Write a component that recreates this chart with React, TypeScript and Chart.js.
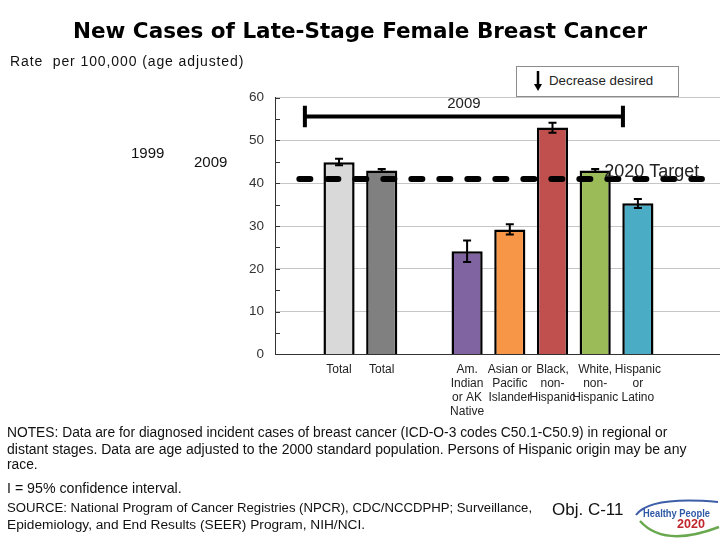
import React, { useEffect, useRef } from 'react';
import { Chart, registerables } from 'chart.js';

Chart.register(...registerables);

// ---- data ----
const categories: string[][] = [
  [''],
  ['Total'],
  ['Total'],
  [''],
  ['Am.', 'Indian', 'or AK', 'Native'],
  ['Asian or', 'Pacific', 'Islander'],
  ['Black,', 'non-', 'Hispanic'],
  ['White,', 'non-', 'Hispanic'],
  ['Hispanic', 'or', 'Latino'],
  [''],
  [''],
];
const rates: (number | null)[] = [null, 44.9, 43.0, null, 24.1, 29.2, 53.0, 43.0, 35.3, null, null];
const ciLow: (number | null)[] = [null, 44.2, 42.7, null, 21.6, 28.0, 51.8, 42.7, 34.2, null, null];
const ciHigh: (number | null)[] = [null, 45.7, 43.3, null, 26.6, 30.4, 54.1, 43.3, 36.3, null, null];
const barColors: string[] = [
  'transparent', '#d9d9d9', '#808080', 'transparent', '#8064a2',
  '#f79646', '#c0504d', '#9bbb59', '#4bacc6', 'transparent', 'transparent',
];
const targetValue = 41.0;
const targetLabel = '2020 Target';
const bracketLabel = '2009';
const bracketValue = 55.6;
const bracketFrom = 0.2;
const bracketTo = 7.65;
const yMin = 0;
const yMax = 60;
const yStep = 5;

const FONT = "'Liberation Sans', Arial, sans-serif";

const overlayPlugin = {
  id: 'overlay',
  afterDatasetsDraw(chart: any) {
    const { ctx, chartArea, scales } = chart;
    const x = scales.x;
    const y = scales.y;
    ctx.save();

    // inward tick marks
    ctx.strokeStyle = '#333';
    ctx.lineWidth = 1;
    for (let v = yMin + yStep; v <= yMax; v += yStep) {
      const py = Math.round(y.getPixelForValue(v)) + 0.5;
      ctx.beginPath();
      ctx.moveTo(chartArea.left, py);
      ctx.lineTo(chartArea.left + 5, py);
      ctx.stroke();
    }

    // error bars
    const meta = chart.getDatasetMeta(0);
    ctx.strokeStyle = '#000';
    ctx.lineWidth = 2;
    rates.forEach((r, i) => {
      if (r == null) return;
      const lo = ciLow[i] as number;
      const hi = ciHigh[i] as number;
      const px = meta.data[i].x;
      const yl = y.getPixelForValue(lo);
      const yh = y.getPixelForValue(hi);
      ctx.beginPath();
      ctx.moveTo(px, yl);
      ctx.lineTo(px, yh);
      ctx.moveTo(px - 4, yl);
      ctx.lineTo(px + 4, yl);
      ctx.moveTo(px - 4, yh);
      ctx.lineTo(px + 4, yh);
      ctx.stroke();
    });

    // target dashed line
    const ty = y.getPixelForValue(targetValue);
    ctx.setLineDash([11, 17]);
    ctx.lineCap = 'round';
    ctx.lineWidth = 6;
    ctx.strokeStyle = '#000';
    ctx.beginPath();
    ctx.moveTo(x.getPixelForValue(0) + 3, ty);
    ctx.lineTo(x.getPixelForValue(9.5), ty);
    ctx.stroke();
    ctx.setLineDash([]);
    ctx.lineCap = 'butt';

    // bracket
    const bx1 = x.getPixelForValue(bracketFrom);
    const bx2 = x.getPixelForValue(bracketTo);
    const by = y.getPixelForValue(bracketValue);
    const capTop = y.getPixelForValue(bracketValue + 2.5);
    const capBot = y.getPixelForValue(bracketValue - 2.5);
    ctx.lineWidth = 4;
    ctx.beginPath();
    ctx.moveTo(bx1, by);
    ctx.lineTo(bx2, by);
    ctx.moveTo(bx1, capTop);
    ctx.lineTo(bx1, capBot);
    ctx.moveTo(bx2, capTop);
    ctx.lineTo(bx2, capBot);
    ctx.stroke();

    // texts
    ctx.fillStyle = '#222';
    ctx.textBaseline = 'middle';
    ctx.textAlign = 'center';
    ctx.font = `15px ${FONT}`;
    ctx.fillText(bracketLabel, (bx1 + bx2) / 2, y.getPixelForValue(58.6));

    ctx.textAlign = 'left';
    ctx.font = `18px ${FONT}`;
    ctx.fillText(targetLabel, x.getPixelForValue(7.21), y.getPixelForValue(42.7));
    ctx.restore();
  },
};

const abs = (left: number, top: number, extra: React.CSSProperties = {}): React.CSSProperties => ({
  position: 'absolute',
  left,
  top,
  whiteSpace: 'pre',
  fontFamily: FONT,
  color: '#111',
  ...extra,
});

export default function App() {
  const ref = useRef<HTMLCanvasElement | null>(null);

  useEffect(() => {
    if (!ref.current) return;
    const chart = new Chart(ref.current, {
      type: 'bar',
      data: {
        labels: categories,
        datasets: [
          {
            data: rates as any,
            backgroundColor: barColors,
            borderColor: '#000',
            borderWidth: 2.5,
            barPercentage: 0.73,
            categoryPercentage: 1,
          },
        ],
      },
      options: {
        animation: false,
        responsive: false,
        devicePixelRatio: 1,
        layout: { padding: { left: 0, top: 97.6, right: 0.4, bottom: 0 } },
        plugins: {
          legend: { display: false },
          title: { display: false },
          tooltip: { enabled: false },
        },
        scales: {
          x: {
            offset: true,
            grid: { display: false, drawTicks: false },
            border: { display: true, color: '#333', width: 1 },
            ticks: {
              autoSkip: false,
              maxRotation: 0,
              minRotation: 0,
              padding: 8,
              color: '#222',
              font: { family: FONT, size: 12, lineHeight: 1.17 },
            },
            afterFit: (s: any) => {
              s.height = 185.5;
            },
          },
          y: {
            min: yMin,
            max: yMax,
            grid: {
              drawTicks: false,
              color: (c: any) =>
                c.tick && c.tick.value % 10 === 0 && c.tick.value > 0 ? '#c6c6c6' : 'transparent',
            },
            border: { display: true, color: '#333', width: 1 },
            ticks: {
              stepSize: yStep,
              padding: 11,
              color: '#333',
              font: { family: FONT, size: 13.5 },
              callback: (v: any) => (Number(v) % 10 === 0 ? String(v) : ''),
            },
            afterFit: (s: any) => {
              s.width = 275;
            },
          },
        },
      },
      plugins: [overlayPlugin],
    });
    return () => chart.destroy();
  }, []);

  const note = (top: number, size: number, text: string) => (
    <div style={abs(7, top, { fontSize: size, lineHeight: '16px' })}>{text}</div>
  );

  return (
    <div
      style={{
        position: 'fixed',
        left: 0,
        top: 0,
        width: 720,
        height: 540,
        overflow: 'hidden',
        background: '#fff',
      }}
    >
      <canvas
        ref={ref}
        width={745}
        height={540}
        style={{ position: 'absolute', left: 0, top: 0, width: 745, height: 540 }}
      />
      <div
        style={abs(0, 18, {
          width: 720,
          textAlign: 'center',
          fontFamily: "'DejaVu Sans', Verdana, sans-serif",
          fontWeight: 'bold',
          fontSize: 21.5,
          lineHeight: '26px',
          color: '#000',
        })}
      >
        New Cases of Late-Stage Female Breast Cancer
      </div>
      <div style={abs(10, 52, { fontSize: 14, lineHeight: '18px', letterSpacing: 0.9 })}>
        Rate  per 100,000 (age adjusted)
      </div>
      <div style={abs(131, 143, { fontSize: 15, lineHeight: '20px' })}>1999</div>
      <div style={abs(194, 152, { fontSize: 15, lineHeight: '20px' })}>2009</div>

      <div
        style={{
          position: 'absolute',
          left: 516,
          top: 66,
          width: 161,
          height: 29,
          border: '1px solid #8c8c8c',
          background: '#fff',
        }}
      >
        <svg width={20} height={29} style={{ position: 'absolute', left: 14, top: 0 }}>
          <line x1={7} y1={4} x2={7} y2={18} stroke="#000" strokeWidth={2.5} />
          <polygon points="3,17 11,17 7,24" fill="#000" />
        </svg>
        <div style={abs(32, 5, { fontSize: 13.3, lineHeight: '18px', color: '#222' })}>Decrease desired</div>
      </div>

      {note(425, 13.8, 'NOTES: Data are for diagnosed incident cases of breast cancer (ICD-O-3 codes C50.1-C50.9) in regional or')}
      {note(441, 14, 'distant stages. Data are age adjusted to the 2000 standard population. Persons of Hispanic origin may be any')}
      {note(457, 13.8, 'race.')}
      {note(480, 14.2, 'I = 95% confidence interval.')}
      {note(500, 13.15, 'SOURCE: National Program of Cancer Registries (NPCR), CDC/NCCDPHP; Surveillance,')}
      {note(517, 13.7, 'Epidemiology, and End Results (SEER) Program, NIH/NCI.')}
      <div style={abs(552, 500, { fontSize: 17, lineHeight: '20px', color: '#111' })}>Obj. C-11</div>

      <svg width={86} height={46} style={{ position: 'absolute', left: 634, top: 494 }}>
        <path d="M 2 21 Q 16 2 84 8" fill="none" stroke="#3f5ea8" strokeWidth={2} />
        <path d="M 6 27 Q 30 54 85 33" fill="none" stroke="#6aa84f" strokeWidth={2.5} />
        <text
          x={9}
          y={23}
          fontFamily={FONT}
          fontWeight="bold"
          fontSize={10}
          fill="#2f5aa6"
          textLength={67}
          lengthAdjust="spacingAndGlyphs"
        >
          Healthy People
        </text>
        <text
          x={43}
          y={34}
          fontFamily={FONT}
          fontWeight="bold"
          fontSize={13}
          fill="#c0262d"
          textLength={28}
          lengthAdjust="spacingAndGlyphs"
        >
          2020
        </text>
      </svg>
    </div>
  );
}
